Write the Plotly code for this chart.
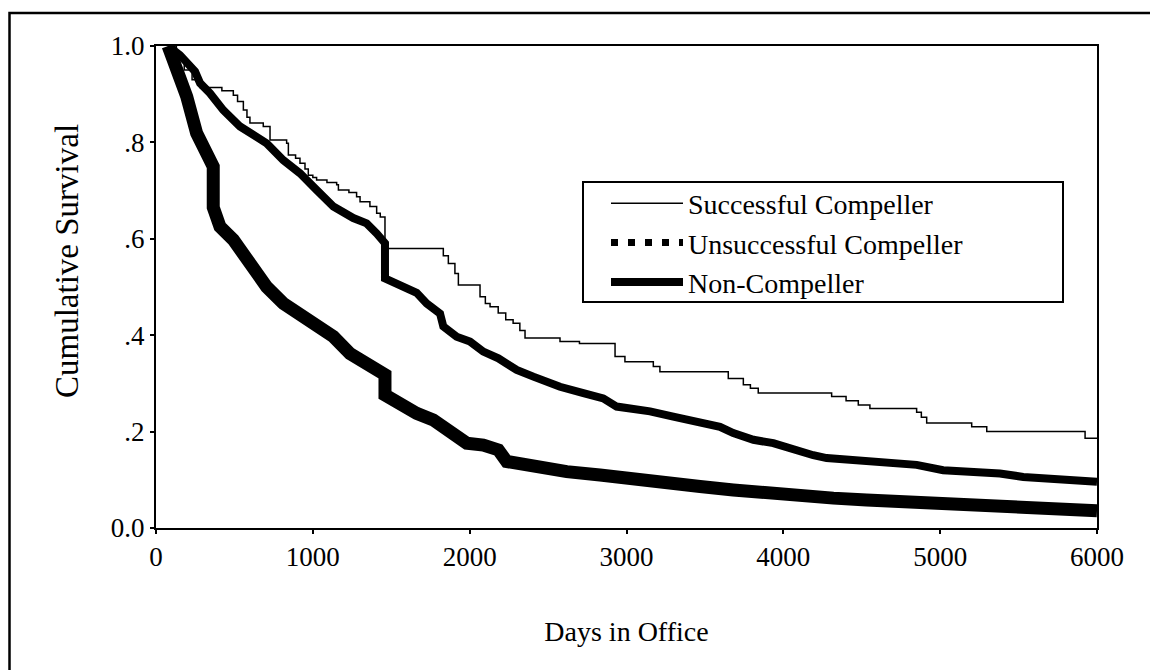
import plotly.graph_objects as go

# ---- data (days in office, cumulative survival) ----
succ_days = [77, 130, 180, 230, 280, 420, 493, 520, 557, 580, 599, 684, 727, 833, 844, 890, 918, 950,
             971, 1000, 1024, 1090, 1152, 1163, 1230, 1279, 1301, 1364, 1407, 1430, 1460, 1832, 1864,
             1906, 1928, 2066, 2100, 2130, 2182, 2230, 2277, 2320, 2353, 2576, 2700, 2927, 2990, 3171,
             3213, 3649, 3745, 3790, 3840, 4308, 4400, 4478, 4552, 4850, 4880, 4914, 5201, 5297, 5924,
             6000]
succ_surv = [1.0, 0.97, 0.95, 0.93, 0.914, 0.907, 0.898, 0.885, 0.867, 0.852, 0.840, 0.833, 0.805,
             0.798, 0.774, 0.767, 0.757, 0.745, 0.732, 0.727, 0.722, 0.717, 0.712, 0.701, 0.696, 0.687,
             0.677, 0.667, 0.653, 0.645, 0.580, 0.565, 0.549, 0.528, 0.504, 0.480, 0.466, 0.459, 0.446,
             0.432, 0.425, 0.410, 0.394, 0.387, 0.383, 0.356, 0.345, 0.335, 0.324, 0.310, 0.297, 0.290,
             0.280, 0.273, 0.264, 0.255, 0.248, 0.240, 0.230, 0.218, 0.210, 0.200, 0.186, 0.186]

unsucc_days = [77, 153, 249, 281, 344, 429, 536, 642, 706, 812, 918, 1025, 1131, 1258, 1343, 1407,
               1460, 1460, 1556, 1662, 1726, 1811, 1832, 1917, 2002, 2087, 2183, 2300, 2406, 2576,
               2725, 2852, 2937, 3044, 3150, 3298, 3384, 3511, 3596, 3681, 3809, 3936, 4064, 4191,
               4276, 4425, 4637, 4850, 5019, 5190, 5381, 5530, 5700, 5828, 6000]
unsucc_surv = [1.0, 0.981, 0.947, 0.923, 0.902, 0.867, 0.833, 0.808, 0.798, 0.763, 0.736, 0.701,
               0.667, 0.643, 0.632, 0.611, 0.591, 0.518, 0.503, 0.488, 0.466, 0.445, 0.418, 0.397,
               0.387, 0.366, 0.352, 0.328, 0.314, 0.293, 0.280, 0.269, 0.252, 0.248, 0.242, 0.231,
               0.224, 0.217, 0.210, 0.197, 0.183, 0.176, 0.162, 0.151, 0.145, 0.141, 0.134, 0.131,
               0.120, 0.117, 0.113, 0.106, 0.103, 0.100, 0.096]

non_days = [77, 132, 196, 259, 323, 365, 365, 376, 408, 493, 599, 706, 812, 918, 1025, 1131, 1237,
            1343, 1450, 1460, 1460, 1556, 1662, 1768, 1832, 1896, 1981, 2087, 2183, 2236, 2406, 2619,
            2831, 3044, 3256, 3469, 3681, 3894, 4106, 4319, 4531, 4731, 4850, 5062, 5275, 5488, 5700,
            6000]
non_surv = [1.0, 0.957, 0.895, 0.819, 0.777, 0.750, 0.665, 0.653, 0.625, 0.598, 0.549, 0.500, 0.466,
            0.442, 0.421, 0.397, 0.362, 0.342, 0.321, 0.318, 0.276, 0.255, 0.238, 0.224, 0.210, 0.189,
            0.176, 0.172, 0.162, 0.138, 0.127, 0.117, 0.110, 0.100, 0.093, 0.086, 0.079, 0.072, 0.065,
            0.062, 0.058, 0.055, 0.055, 0.048, 0.044, 0.041, 0.037, 0.036]

series_names = ["Successful Compeller", "Unsuccessful Compeller", "Non-Compeller"]
x_ticks = [0, 1000, 2000, 3000, 4000, 5000, 6000]
y_ticks = [0.0, 0.2, 0.4, 0.6, 0.8, 1.0]
y_tick_labels = ["0.0", ".2", ".4", ".6", ".8", "1.0"]
x_title = "Days in Office"
y_title = "Cumulative Survival"

FONT = "Liberation Serif, Times New Roman, serif"

fig = go.Figure()

# curves
fig.add_trace(go.Scatter(x=non_days, y=non_surv, mode="lines", showlegend=False,
                         line=dict(color="black", width=13)))
fig.add_trace(go.Scatter(x=unsucc_days, y=unsucc_surv, mode="lines", showlegend=False,
                         line=dict(color="black", width=8)))
fig.add_trace(go.Scatter(x=succ_days, y=succ_surv, mode="lines", line_shape="hv", showlegend=False,
                         line=dict(color="black", width=1.5)))

# legend entries
fig.add_trace(go.Scatter(x=[None], y=[None], mode="lines", name=series_names[0],
                         line=dict(color="black", width=1.5)))
fig.add_trace(go.Scatter(x=[None], y=[None], mode="lines", name=series_names[1],
                         line=dict(color="black", width=7, dash="7px,10px")))
fig.add_trace(go.Scatter(x=[None], y=[None], mode="lines", name=series_names[2],
                         line=dict(color="black", width=8)))

L, R, T, B = 156, 53, 46, 142
W, H = 1150, 670
pw, ph = W - L - R, H - T - B

def px_to_paper_x(px):
    return (px - L) / pw

def py_to_paper_y(py):
    return (H - B - py) / ph

# outer frame (left and top edges)
fig.add_shape(type="path", xref="paper", yref="paper",
              path=f"M {px_to_paper_x(9.5)} {py_to_paper_y(672)} L {px_to_paper_x(9.5)} {py_to_paper_y(13)} "
                   f"L {px_to_paper_x(1152)} {py_to_paper_y(13)}",
              line=dict(color="black", width=2.5))

# legend frame
fig.add_shape(type="rect", xref="paper", yref="paper",
              x0=px_to_paper_x(583), x1=px_to_paper_x(1063),
              y0=py_to_paper_y(302), y1=py_to_paper_y(182),
              line=dict(color="black", width=2), fillcolor="rgba(0,0,0,0)")

# y-axis title (placed as in the reference, slightly above the axis centre)
fig.add_annotation(text=y_title, xref="paper", yref="paper",
                   x=px_to_paper_x(67), y=py_to_paper_y(261), xanchor="center", yanchor="middle",
                   textangle=-90, showarrow=False,
                   font=dict(family=FONT, size=33, color="black"))

fig.update_layout(
    width=W, height=H,
    margin=dict(l=L, r=R, t=T, b=B, pad=0),
    paper_bgcolor="white", plot_bgcolor="white",
    font=dict(family=FONT, size=27, color="black"),
    showlegend=True,
    legend=dict(x=px_to_paper_x(606), y=py_to_paper_y(243), xanchor="left", yanchor="middle",
                borderwidth=0, bgcolor="rgba(0,0,0,0)",
                font=dict(family=FONT, size=28, color="black"),
                itemwidth=72, tracegroupgap=0),
    xaxis=dict(range=[0, 6000], tickvals=x_ticks, ticks="outside", ticklen=4, tickwidth=2,
               tickcolor="black", showline=True, linecolor="black", linewidth=2, mirror=True,
               showgrid=False, zeroline=False,
               tickfont=dict(family=FONT, size=27, color="black"),
               title=dict(text=x_title, standoff=50,
                          font=dict(family=FONT, size=28, color="black"))),
    yaxis=dict(range=[0, 1], tickvals=y_ticks, ticktext=y_tick_labels, ticks="outside", ticklen=4,
               tickwidth=2, tickcolor="black", showline=True, linecolor="black", linewidth=2,
               mirror=True, showgrid=False, zeroline=False,
               tickfont=dict(family=FONT, size=27, color="black")),
)

fig.write_html("out.html")
